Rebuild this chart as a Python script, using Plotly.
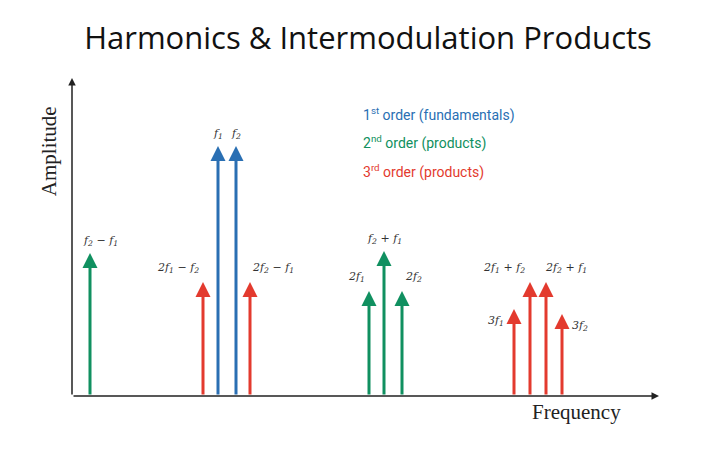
import plotly.graph_objects as go

# positions (arbitrary frequency units) and amplitudes
freqs = [18, 131, 146, 164, 178, 297, 312, 330, 442, 458, 474, 490]
amps = [143, 114, 250, 250, 114, 105, 145, 105, 87, 114, 114, 82]
orders = [2, 3, 1, 1, 3, 2, 2, 2, 3, 3, 3, 3]
labels = ["f<sub>2</sub> − f<sub>1</sub>", "2f<sub>1</sub> − f<sub>2</sub>", "f<sub>1</sub>", "f<sub>2</sub>",
          "2f<sub>2</sub> − f<sub>1</sub>", "2f<sub>1</sub>", "f<sub>2</sub> + f<sub>1</sub>", "2f<sub>2</sub>",
          "3f<sub>1</sub>", "2f<sub>1</sub> + f<sub>2</sub>", "2f<sub>2</sub> + f<sub>1</sub>", "3f<sub>2</sub>"]
# label offsets (dx, dy) relative to arrow top, and anchor
label_pos = [(10, 12, "center"), (-2, 14, "right"), (0, 12, "center"), (0, 12, "center"),
             (0, 14, "left"), (-2, 14, "right"), (0, 12, "center"), (1, 14, "left"),
             (-8, -12, "right"), (-3, 14, "right"), (-3, 14, "left"), (8, -12, "left")]
legend_items = ["1<sup>st</sup> order (fundamentals)", "2<sup>nd</sup> order (products)", "3<sup>rd</sup> order (products)"]
colors = {1: "#2a6fb3", 2: "#109060", 3: "#e33a2e"}

fig = go.Figure()
fig.add_trace(go.Scatter(x=[0], y=[0], mode="markers", marker=dict(opacity=0), showlegend=False, hoverinfo="skip"))
ann = []
for f, a, o, lab, (dx, dy, anc) in zip(freqs, amps, orders, labels, label_pos):
    ann.append(dict(x=f, y=a, ax=f, ay=0, xref="x", yref="y", axref="x", ayref="y", showarrow=True,
                    arrowhead=2, arrowsize=1, arrowwidth=3, arrowcolor=colors[o], text=""))
    ann.append(dict(x=f + dx, y=a + dy, xref="x", yref="y", showarrow=False, text="<i>" + lab + "</i>", xanchor=anc,
                    font=dict(family="DejaVu Serif", size=11, color="#333"), yanchor="middle"))
# axes with arrows
ann.append(dict(x=0, y=318, ax=0, ay=0, xref="x", yref="y", axref="x", ayref="y", showarrow=True,
                arrowhead=2, arrowwidth=1.5, arrowcolor="#222", text=""))
ann.append(dict(x=587, y=0, ax=0, ay=0, xref="x", yref="y", axref="x", ayref="y", showarrow=True,
                arrowhead=2, arrowwidth=1.5, arrowcolor="#222", text=""))
for i, t in enumerate(legend_items):
    ann.append(dict(x=289, y=282 - i * 28.5, xref="x", yref="y", showarrow=False, text=t, xanchor="left",
                    font=dict(family="Roboto", size=14, color=colors[i + 1])))
ann.append(dict(x=-0.039, y=0.79, xref="paper", yref="paper", showarrow=False, text="Amplitude", textangle=-90,
                xanchor="center", yanchor="middle",
                font=dict(family="Liberation Serif", size=21, color="#222")))
ann.append(dict(x=0.86, y=-0.052, xref="paper", yref="paper", showarrow=False, text="Frequency",
                xanchor="center", yanchor="middle",
                font=dict(family="Liberation Serif", size=21, color="#222")))

fig.update_layout(
    width=720, height=450, margin=dict(l=64, r=69, t=78, b=62),
    paper_bgcolor="white", plot_bgcolor="white",
    title=dict(text="Harmonics & Intermodulation Products", x=0.5, xanchor="center", y=0.958,
               font=dict(family="Open Sans", size=31, color="#111")),
    xaxis=dict(range=[0, 587], visible=False, fixedrange=True),
    yaxis=dict(range=[0, 310], visible=False, fixedrange=True),
    annotations=ann, showlegend=False,
)
fig.write_html("out.html")
